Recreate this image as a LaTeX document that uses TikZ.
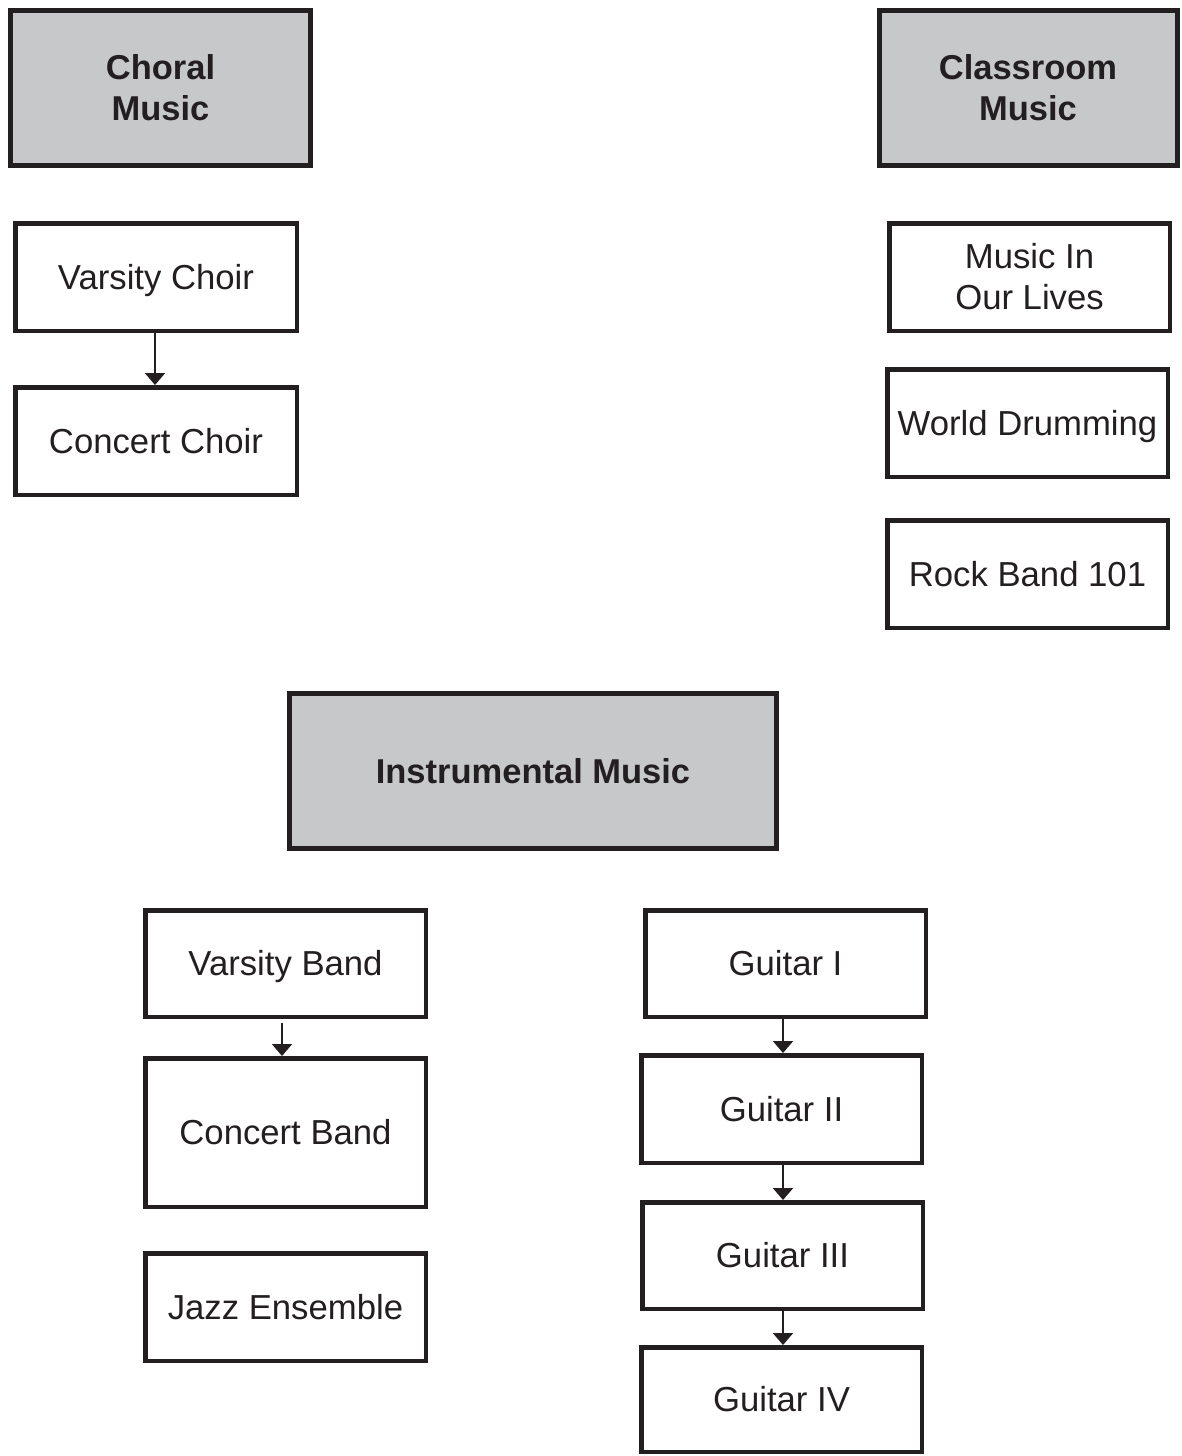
\documentclass[tikz,border=0pt]{standalone}
\usepackage{fontspec}
\setmainfont{Liberation Sans}
\usetikzlibrary{arrows.meta}
\definecolor{ink}{HTML}{231F20}
\definecolor{headfill}{HTML}{C7C8CA}
\tikzset{
  box/.style={draw=ink, line width=4.5pt, fill=white, text=ink, align=center,
    inner sep=0pt, font=\fontsize{34.7}{41}\selectfont},
  one/.style={text height=24.8pt, text depth=0pt},
  head/.style={box, line width=5pt, fill=headfill, font=\fontsize{34.5}{41}\selectfont\bfseries},
  arr/.style={draw=ink, line width=2pt, -{Triangle[width=20pt,length=12pt]}}
}
\begin{document}
\begin{tikzpicture}[x=1pt,y=-1pt]
\useasboundingbox (0,0) rectangle (1181,1456);
% headings
\node[head, minimum width=300pt, minimum height=155pt] (choral) at (160.5,88) {Choral\\Music};
\node[head, minimum width=298pt, minimum height=155pt] (classroom) at (1028,88) {Classroom\\Music};
\node[head, one, minimum width=487pt, minimum height=155pt] (instr) at (533,771) {Instrumental Music};
% choral
\node[box, one, minimum width=281.5pt, minimum height=107.5pt] (vchoir) at (156,277) {Varsity Choir};
\node[box, one, minimum width=281.5pt, minimum height=107.5pt] (cchoir) at (156,441) {Concert Choir};
% classroom
\node[box, minimum width=280.5pt, minimum height=107.5pt] (lives) at (1029.5,277) {Music In\\Our Lives};
\node[box, one, minimum width=280.5pt, minimum height=107.5pt] (drum) at (1027.5,423) {World Drumming};
\node[box, one, minimum width=280.5pt, minimum height=107.5pt] (rock) at (1027.5,574) {Rock Band 101};
% instrumental
\node[box, one, minimum width=280.5pt, minimum height=106.5pt] (vband) at (285.5,963.5) {Varsity Band};
\node[box, one, minimum width=280.5pt, minimum height=148.5pt] (cband) at (285.5,1132.5) {Concert Band};
\node[box, one, minimum width=280.5pt, minimum height=107.5pt] (jazz) at (285.5,1307) {Jazz Ensemble};
\node[box, one, minimum width=280.5pt, minimum height=106.5pt] (g1) at (785.5,963.5) {Guitar I};
\node[box, one, minimum width=280.5pt, minimum height=107.5pt] (g2) at (781.5,1109) {Guitar II};
\node[box, one, minimum width=280.5pt, minimum height=106.5pt] (g3) at (782.5,1255.5) {Guitar III};
\node[box, one, minimum width=280.5pt, minimum height=104.5pt] (g4) at (781.5,1399.5) {Guitar IV};
% arrows
\draw[arr] (vchoir.south -| 155,0) -- (cchoir.north -| 155,0);
\draw[arr, shorten <=4pt] (vband.south -| 282,0) -- (cband.north -| 282,0);
\draw[arr] (g1.south -| 783,0) -- (g2.north -| 783,0);
\draw[arr] (g2.south -| 783,0) -- (g3.north -| 783,0);
\draw[arr] (g3.south -| 783,0) -- (g4.north -| 783,0);
\end{tikzpicture}
\end{document}
